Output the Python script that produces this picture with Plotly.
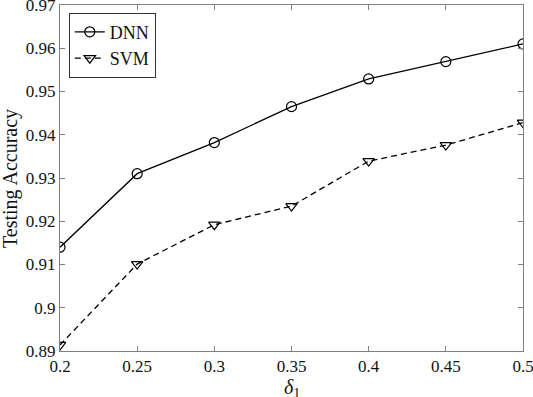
import plotly.graph_objects as go

delta = [0.2, 0.25, 0.3, 0.35, 0.4, 0.45, 0.5]
dnn = [0.914, 0.931, 0.9382, 0.9465, 0.9529, 0.9569, 0.961]
svm = [0.8914, 0.9101, 0.9192, 0.9235, 0.9339, 0.9376, 0.9428]
x_ticks = [0.2, 0.25, 0.3, 0.35, 0.4, 0.45, 0.5]
y_ticks = [0.89, 0.9, 0.91, 0.92, 0.93, 0.94, 0.95, 0.96, 0.97]

FONT = "Liberation Serif"
INK = "#111"
fig = go.Figure()
fig.add_trace(go.Scatter(x=delta, y=dnn, name="DNN", mode="lines+markers",
                         line=dict(color="black", width=1.3),
                         marker=dict(symbol="circle-open", size=10, color="black", line=dict(width=1.2))))
fig.add_trace(go.Scatter(x=delta, y=svm, name="SVM", mode="lines+markers",
                         line=dict(color="black", width=1.3, dash="6px,4px"),
                         marker=dict(symbol="triangle-down-open", size=10, color="black", line=dict(width=1.2))))

axis_common = dict(showline=True, linecolor="#808080", linewidth=1, mirror="ticks",
                   ticks="inside", ticklen=5, tickcolor="#808080", showgrid=False, zeroline=False,
                   ticklabeloverflow="allow", automargin=False,
                   tickfont=dict(family=FONT, size=17, color=INK))
fig.update_xaxes(range=[0.2, 0.5], tickvals=x_ticks, ticktext=[f"{v:g}" for v in x_ticks],
                 **axis_common)
fig.update_yaxes(range=[0.89, 0.97], tickvals=y_ticks, ticktext=[f"{v:g}" for v in y_ticks],
                 **axis_common)
fig.update_layout(width=533, height=397, margin=dict(l=60, r=10, t=5, b=46),
                  plot_bgcolor="white", paper_bgcolor="white",
                  legend=dict(x=0.019, y=0.978, xanchor="left", yanchor="top",
                              bgcolor="white", bordercolor="#333", borderwidth=1,
                              font=dict(family=FONT, size=18, color=INK),
                              itemwidth=30, tracegroupgap=0),
                  annotations=[
                      dict(text="<i>δ</i><sub>1</sub>", xref="paper", yref="paper", x=0.5, y=-0.066,
                           xanchor="center", yanchor="top", showarrow=False,
                           font=dict(family=FONT, size=20, color=INK)),
                      dict(text="Testing Accuracy", xref="paper", yref="paper", x=-0.108, y=0.5,
                           xanchor="center", yanchor="middle", textangle=-90, showarrow=False,
                           font=dict(family=FONT, size=20, color=INK)),
                  ])
fig.write_html("out.html", config={"displayModeBar": False},
               post_script="document.body.style.margin='0';")
